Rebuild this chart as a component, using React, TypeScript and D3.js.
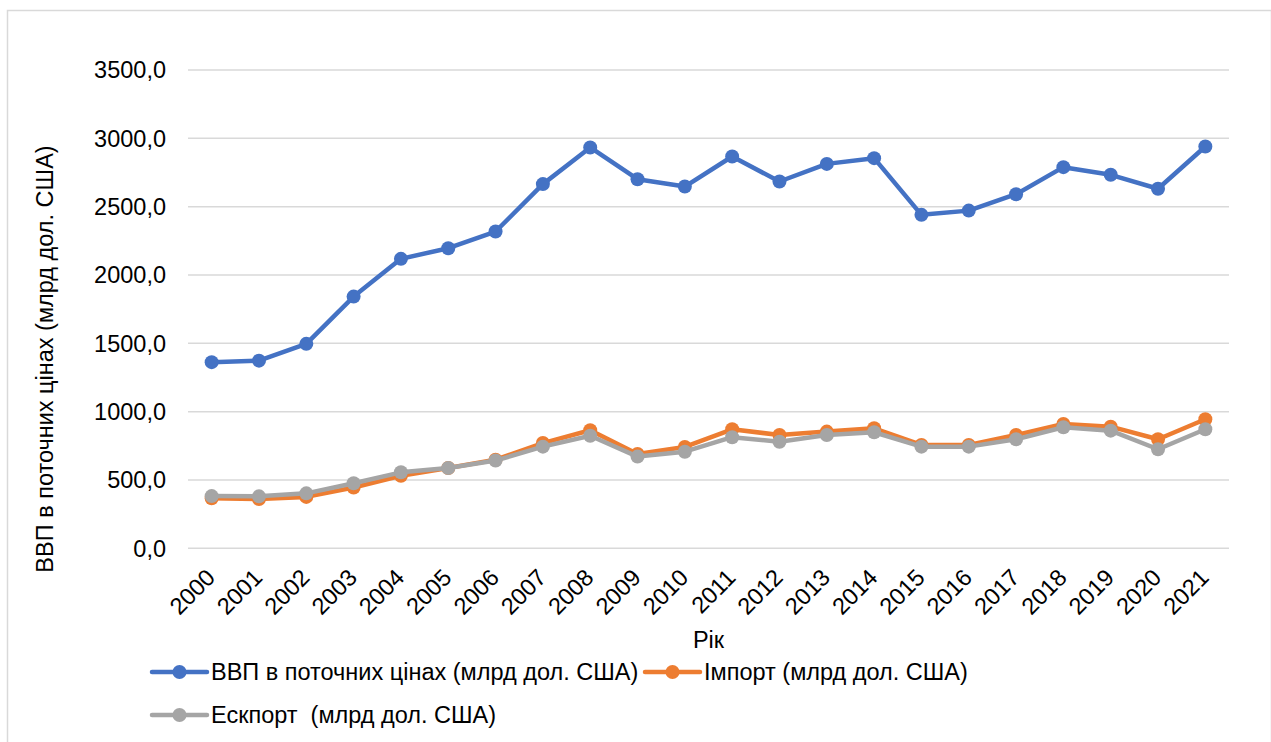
import React, { useEffect, useRef } from "react";
import * as d3 from "d3";

const years = ["2000", "2001", "2002", "2003", "2004", "2005", "2006", "2007", "2008", "2009", "2010",
  "2011", "2012", "2013", "2014", "2015", "2016", "2017", "2018", "2019", "2020", "2021"];
const gdp = [1362, 1373, 1496, 1842, 2118, 2196, 2318, 2665, 2933, 2701, 2647,
  2867, 2684, 2813, 2855, 2440, 2471, 2591, 2789, 2733, 2631, 2940];
const imports = [366, 360, 376, 445, 530, 588, 648, 770, 864, 690, 742,
  871, 829, 854, 878, 756, 756, 829, 910, 890, 798, 944];
const exports = [382, 380, 402, 476, 556, 588, 642, 744, 824, 671, 707,
  813, 780, 829, 849, 744, 744, 798, 886, 861, 725, 871];
const yTicks = [0, 500, 1000, 1500, 2000, 2500, 3000, 3500];
const seriesNames = ["ВВП в поточних цінах (млрд дол. США)", "Імпорт (млрд дол. США)", "Ескпорт  (млрд дол. США)"];
const colors = ["#4472C4", "#ED7D31", "#A5A5A5"];

const W = 1271, H = 742;
const FONT = "'Liberation Sans', Arial, sans-serif";
const FS = 23.5;

export default function App() {
  const svgRef = useRef<SVGSVGElement>(null);

  useEffect(() => {
    const svg = d3.select(svgRef.current);
    svg.selectAll("*").remove();

    const left = 188, right = 1229, top = 70, bottom = 548.3;

    // frame
    svg.append("rect")
      .attr("x", 7.5).attr("y", 10.5)
      .attr("width", W - 7).attr("height", H - 9)
      .attr("fill", "#fff").attr("stroke", "#d9d9d9").attr("stroke-width", 1.5);

    const x = d3.scaleBand().domain(years).range([left, right]);
    const y = d3.scaleLinear().domain([0, 3500]).range([bottom, top]);
    const cx = (d: string) => (x(d) as number) + x.bandwidth() / 2;

    // gridlines
    svg.append("g").selectAll("line").data(yTicks).enter().append("line")
      .attr("x1", left).attr("x2", right)
      .attr("y1", (d) => y(d)).attr("y2", (d) => y(d))
      .attr("stroke", "#d9d9d9").attr("stroke-width", 1.5);

    // y tick labels
    svg.append("g").selectAll("text").data(yTicks).enter().append("text")
      .attr("x", 166).attr("y", (d) => y(d))
      .attr("dy", "0.35em")
      .attr("text-anchor", "end")
      .attr("font-family", FONT).attr("font-size", FS).attr("fill", "#000")
      .text((d) => d.toFixed(1).replace(".", ","));

    // x tick labels, rotated
    svg.append("g").selectAll("text").data(years).enter().append("text")
      .attr("transform", (d) => `translate(${cx(d) - 1},${bottom + 25}) rotate(-45)`)
      .attr("text-anchor", "end")
      .attr("dy", "0.35em")
      .attr("font-family", FONT).attr("font-size", FS).attr("fill", "#000")
      .text((d) => d);

    // axis titles
    svg.append("text")
      .attr("transform", `translate(53,359) rotate(-90)`)
      .attr("text-anchor", "middle")
      .attr("font-family", FONT).attr("font-size", FS).attr("fill", "#000")
      .text(seriesNames[0]);

    svg.append("text")
      .attr("x", (left + right) / 2).attr("y", 648)
      .attr("text-anchor", "middle")
      .attr("font-family", FONT).attr("font-size", FS).attr("fill", "#000")
      .text("Рік");

    const series = [gdp, imports, exports];
    const line = d3.line<number>()
      .x((_, i) => cx(years[i]))
      .y((d) => y(d));

    series.forEach((vals, si) => {
      const g = svg.append("g");
      g.append("path")
        .attr("d", line(vals))
        .attr("fill", "none")
        .attr("stroke", colors[si])
        .attr("stroke-width", 4.5)
        .attr("stroke-linejoin", "round");
      g.selectAll("circle").data(vals).enter().append("circle")
        .attr("cx", (_, i) => cx(years[i]))
        .attr("cy", (d) => y(d))
        .attr("r", 7)
        .attr("fill", colors[si]);
    });

    // legend
    const legendPos = [
      { x: 152, y: 672 },
      { x: 645, y: 672 },
      { x: 152, y: 715 },
    ];
    legendPos.forEach((p, i) => {
      const g = svg.append("g").attr("transform", `translate(${p.x},${p.y})`);
      g.append("line").attr("x1", 0).attr("x2", 55).attr("y1", 0).attr("y2", 0)
        .attr("stroke", colors[i]).attr("stroke-width", 4.5).attr("stroke-linecap", "round");
      g.append("circle").attr("cx", 27.5).attr("cy", 0).attr("r", 7).attr("fill", colors[i]);
      g.append("text").attr("x", 59).attr("y", 0).attr("dy", "0.35em")
        .attr("font-family", FONT).attr("font-size", FS).attr("fill", "#000")
        .style("white-space", "pre")
        .text(seriesNames[i]);
    });
  }, []);

  return (
    <svg ref={svgRef} width={W} height={H}
      style={{ position: "absolute", left: 0, top: 0, display: "block" }} />
  );
}
